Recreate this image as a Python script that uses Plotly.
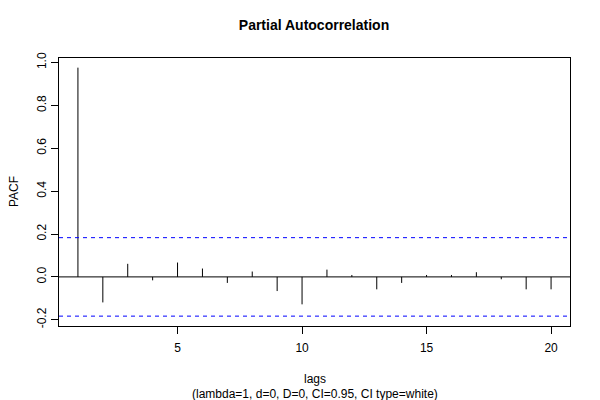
import plotly.graph_objects as go

# data
lags = list(range(1, 21))
pacf = [0.976, -0.119, 0.061, -0.016, 0.067, 0.039, -0.028, 0.025, -0.066, -0.128,
        0.034, 0.009, -0.058, -0.028, 0.009, 0.009, 0.022, -0.011, -0.058, -0.058]
ci = 0.183
x_ticks = [5, 10, 15, 20]
y_ticks = [-0.2, 0.0, 0.2, 0.4, 0.6, 0.8, 1.0]
y_ticklabels = ["-0.2", "0.0", "0.2", "0.4", "0.6", "0.8", "1.0"]

FONT = "Liberation Sans, Arial, Helvetica, sans-serif"

xs, ys = [], []
for l, v in zip(lags, pacf):
    xs += [l, l, None]
    ys += [0, v, None]

fig = go.Figure()
fig.add_trace(go.Scatter(x=xs, y=ys, mode="lines",
                         line=dict(color="black", width=1), hoverinfo="skip",
                         showlegend=False))

xmin, xmax = 0.24, 20.76
ymin, ymax = -0.229, 1.021

fig.add_shape(type="line", xref="paper", x0=0, x1=1, y0=0, y1=0,
              line=dict(color="black", width=1))
for c in (ci, -ci):
    fig.add_shape(type="line", xref="paper", x0=0, x1=1, y0=c, y1=c,
                  line=dict(color="#0000FF", width=1, dash="4px,4px"))

fig.update_layout(
    width=600, height=400,
    margin=dict(l=59, r=30, t=58, b=74),
    paper_bgcolor="white", plot_bgcolor="white",
    font=dict(family=FONT, size=12, color="black"),
    title=dict(text="<b>Partial Autocorrelation</b>", x=314 / 600, xanchor="center",
               y=(400 - 25) / 400, yanchor="middle",
               font=dict(family=FONT, size=14, color="black")),
    xaxis=dict(range=[xmin, xmax], tickvals=x_ticks, ticks="outside", ticklen=7,
               tickcolor="black", tickwidth=1, showgrid=False, zeroline=False,
               showline=True, linecolor="black", linewidth=1, mirror=True,
               ticklabelstandoff=4, tickfont=dict(size=12)),
    yaxis=dict(range=[ymin, ymax], tickvals=y_ticks, ticktext=y_ticklabels,
               ticks="outside", ticklen=7, tickcolor="black", tickwidth=1,
               tickangle=-90, showgrid=False, zeroline=False,
               showline=True, linecolor="black", linewidth=1, mirror=True,
               tickfont=dict(size=12)),
    annotations=[
        dict(text="lags", xref="paper", yref="paper", x=0.5, y=0, yanchor="top",
             yshift=-44, showarrow=False, font=dict(size=12)),
        dict(text="(lambda=1, d=0, D=0, CI=0.95, CI type=white)", xref="paper",
             yref="paper", x=0.5, y=0, yanchor="top", yshift=-59, showarrow=False,
             font=dict(size=12)),
        dict(text="PACF", xref="paper", yref="paper", x=0, y=0.5, xanchor="center",
             xshift=-45, textangle=-90, showarrow=False, font=dict(size=12)),
    ],
)

fig.write_html("out.html", config={"displayModeBar": False},
               post_script="document.body.style.margin='0';")
